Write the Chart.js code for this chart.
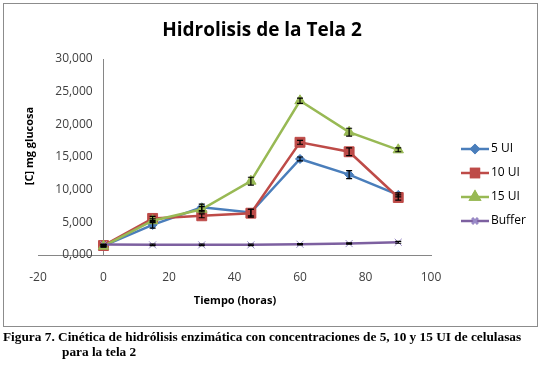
<!DOCTYPE html>
<html>
<head>
<meta charset="utf-8">
<script src="https://cdn.jsdelivr.net/npm/chart.js@4"></script>
<style>
  body { margin: 0; background: #fff; }
  #box { position: absolute; left: 3px; top: 3px; width: 533px; height: 322px; border: 1px solid #8c8c8c; }
  #wrap { position: absolute; left: 0; top: 0; width: 540px; height: 330px; }
  #caption { position: absolute; left: 3px; top: 329px; width: 537px; font: bold 13.3px "Liberation Serif", serif; color: #000; line-height: 15px; white-space: nowrap; }
  #caption .l2 { padding-left: 59px; }
</style>
</head>
<body>
<div id="box"></div>
<div id="wrap"><canvas id="myChart" width="540" height="330"></canvas></div>
<div id="caption">Figura 7. Cinética de hidrólisis enzimática con concentraciones de 5, 10 y 15 UI de celulasas<br><span class="l2">para la tela 2</span></div>
<script>
let ctx = document.getElementById('myChart').getContext('2d');

// tiempo (horas)
const hours = [0, 15, 30, 45, 60, 75, 90];
const seriesNames = ['5 UI', '10 UI', '15 UI', 'Buffer'];

// [C] mg glucosa
const ui5 = [1400, 4600, 7300, 6500, 14700, 12300, 9200];
const ui10 = [1450, 5600, 6000, 6400, 17250, 15800, 8800];
const ui15 = [1350, 5250, 7000, 11300, 23600, 18800, 16100];
const buffer = [1600, 1550, 1550, 1550, 1650, 1750, 1950];

// error bars (+/-)
const ui5Err = [150, 500, 500, 500, 300, 600, 300];
const ui10Err = [150, 300, 300, 600, 300, 600, 400];
const ui15Err = [150, 300, 400, 600, 400, 600, 300];
const bufferErr = [80, 100, 100, 100, 100, 100, 150];

const xTicks = [-20, 0, 20, 40, 60, 80, 100];
const yTicks = [0, 5000, 10000, 15000, 20000, 25000, 30000];

function toPoints(values) {
    return values.map((v, i) => ({ x: hours[i], y: v }));
}

let styles = [
    { color: '#4A7EBB', point: 'rectRot', radius: 4.5 },
    { color: '#BE4B48', point: 'rect', radius: 7 },
    { color: '#98B954', point: 'triangle', radius: 6 },
    { color: '#7D60A0', point: 'crossRot', radius: 5 }
];
let values = [ui5, ui10, ui15, buffer];
let errors = [ui5Err, ui10Err, ui15Err, bufferErr];

let datasets = values.map((vals, i) => ({
    label: seriesNames[i],
    data: toPoints(vals),
    err: errors[i],
    borderColor: styles[i].color,
    backgroundColor: styles[i].color,
    pointBorderColor: i == 3 ? '#9a8bc8' : styles[i].color,
    pointBackgroundColor: styles[i].color,
    pointStyle: styles[i].point,
    pointRadius: styles[i].radius,
    pointBorderWidth: 1,
    borderWidth: 2.5,
    showLine: true,
    tension: 0,
    order: 4 - i
}));

const errorBars = {
    id: 'errorBars',
    afterDatasetsDraw(chart) {
        const c = chart.ctx;
        const xs = chart.scales.x, ys = chart.scales.y;
        c.save();
        c.strokeStyle = '#000';
        c.lineWidth = 1.2;
        chart.data.datasets.forEach(ds => {
            ds.data.forEach((p, i) => {
                const px = xs.getPixelForValue(p.x);
                const top = ys.getPixelForValue(p.y + ds.err[i]);
                const bot = ys.getPixelForValue(p.y - ds.err[i]);
                c.beginPath();
                c.moveTo(px, top); c.lineTo(px, bot);
                c.moveTo(px - 3, top); c.lineTo(px + 3, top);
                c.moveTo(px - 3, bot); c.lineTo(px + 3, bot);
                c.stroke();
            });
        });
        c.restore();
    },
    afterDraw(chart) { //-- title, axis titles and Excel style legend
        const c = chart.ctx;
        c.save();
        c.fillStyle = '#000';
        c.textAlign = 'center';
        c.textBaseline = 'middle';
        c.font = 'bold 19px "Open Sans"';
        c.fillText('Hidrolisis de la Tela 2', 262, 31);
        c.font = 'bold 11px "Open Sans"';
        c.fillText('Tiempo (horas)', 235, 301);
        c.translate(30, 146);
        c.rotate(-Math.PI / 2);
        c.fillText('[C] mg glucosa', 0, 0);
        c.restore();

        c.save();
        c.font = '12px "Open Sans"';
        c.textBaseline = 'middle';
        chart.data.datasets.forEach((ds, i) => {
            const y = 149 + i * 24;
            c.strokeStyle = ds.borderColor;
            c.lineWidth = 2.5;
            c.beginPath();
            c.moveTo(461, y); c.lineTo(489, y);
            c.stroke();
            Chart.helpers.drawPoint(c, {
                pointStyle: ds.pointStyle,
                radius: ds.pointStyle == 'rect' ? 5.5 : ds.pointRadius - 1,
                borderWidth: 1
            }, 475, y);
            c.fillStyle = ds.pointBackgroundColor;
            c.strokeStyle = ds.pointBorderColor;
            c.fill();
            c.stroke();
            c.fillStyle = '#000';
            c.fillText(ds.label, 491, y);
        });
        c.restore();
    }
};

const yRange = { min: 0, max: 30000 };

new Chart(ctx, {
    type: 'scatter',
    data: { datasets: datasets },
    plugins: [errorBars],
    options: {
        responsive: false,
        animation: false,
        layout: { padding: { left: 38, right: 109, top: 59, bottom: 45 } },
        plugins: {
            legend: { display: false },
            tooltip: { enabled: false }
        },
        scales: {
            x: {
                type: 'linear',
                min: -20, max: 100,
                afterBuildTicks: s => { s.ticks = xTicks.map(v => ({ value: v })); },
                afterFit: s => { s.height = 30; },
                grid: { display: false, drawTicks: false },
                border: { display: true, color: '#868686', width: 1 },
                ticks: { color: '#404040', padding: 15, font: { family: 'Open Sans', size: 12 } }
            },
            y: {
                ...yRange,
                // labels sit a little left of the axis line, as Excel does
                position: { x: -3.3 },
                afterBuildTicks: s => { s.ticks = yTicks.map(v => ({ value: v })); },
                grid: { display: false, drawTicks: false },
                border: { display: false },
                ticks: {
                    color: '#404040',
                    font: { family: 'Open Sans', size: 12 },
                    callback: v => v == 0 ? '0,000' : v.toLocaleString('en-US')
                }
            },
            yLine: {
                ...yRange,
                position: { x: 0 },
                grid: { display: false, drawTicks: false },
                border: { display: true, color: '#868686', width: 1 },
                ticks: { display: false }
            }
        }
    }
});
</script>
</body>
</html>
